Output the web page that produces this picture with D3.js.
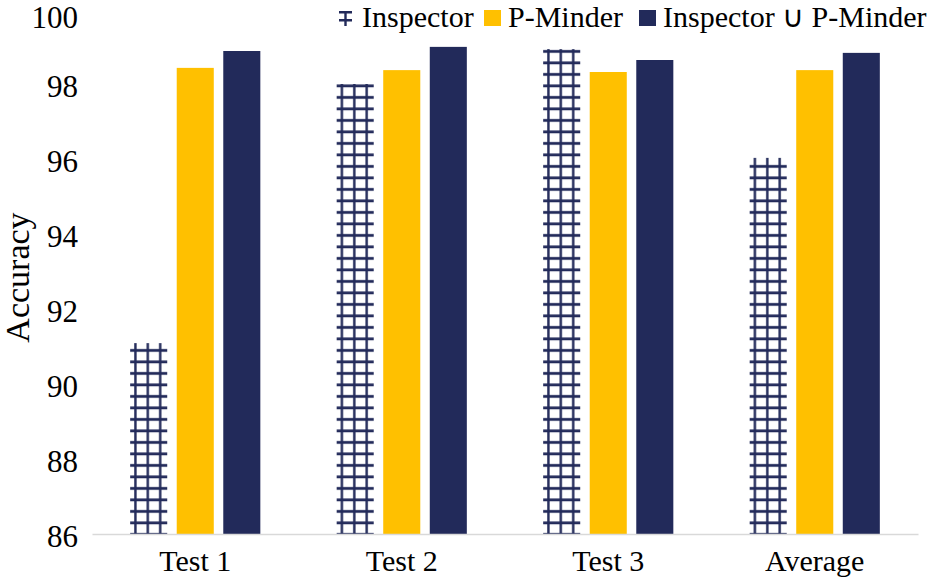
<!DOCTYPE html>
<html>
<head>
<meta charset="utf-8">
<script src="https://cdn.jsdelivr.net/npm/d3@7"></script>
<style>
  body { margin: 0; background: #fff; }
  svg text { font-family: "Liberation Serif", "Times New Roman", serif; fill: #000; }
</style>
</head>
<body>
<script>
// data
const categories = ["Test 1", "Test 2", "Test 3", "Average"];
const seriesNames = ["Inspector", "P-Minder", "Inspector \u222A P-Minder"];
const inspector = [91.09, 98.0, 98.93, 96.03];
const pMinder = [98.43, 98.37, 98.32, 98.37];
const union = [98.88, 98.99, 98.64, 98.83];
const yTicks = [86, 88, 90, 92, 94, 96, 98, 100];

const width = 945, height = 586;
const margin = { top: 9, right: 27, bottom: 52, left: 92 };
const navy = "#222a5a", gold = "#ffc000";
const serif = "Liberation Serif, Times New Roman, serif";

const svg = d3.select("body").append("svg")
    .attr("width", width)
    .attr("height", height)
    .attr("font-family", serif);

// grid hatch for the Inspector series
const defs = svg.append("defs");
const pat = defs.append("pattern")
    .attr("id", "grid")
    .attr("patternUnits", "userSpaceOnUse")
    .attr("width", 12.4)
    .attr("height", 11.5);
pat.append("rect").attr("width", 12.4).attr("height", 11.5).attr("fill", "#fff");
pat.append("rect").attr("x", 0).attr("y", 4).attr("width", 12.4).attr("height", 2.8).attr("fill", navy);
pat.append("rect").attr("x", 5).attr("y", 0).attr("width", 2.4).attr("height", 11.5).attr("fill", navy);

const x0 = d3.scaleBand()
    .domain(categories)
    .range([margin.left, width - margin.right]);

const x1 = d3.scaleBand()
    .domain(seriesNames)
    .range([0, x0.bandwidth()])
    .paddingInner(0.204)
    .paddingOuter(0.82);

const y = d3.scaleLinear()
    .domain([86, 100])
    .range([height - margin.bottom, margin.top]);

const fills = ["url(#grid)", gold, navy];
const rows = categories.map((c, i) => ({
    cat: c,
    vals: [inspector[i], pMinder[i], union[i]]
}));

const groups = svg.append("g").selectAll("g")
    .data(rows)
    .join("g")
    .attr("transform", d => `translate(${x0(d.cat)},0)`);

groups.selectAll("rect")
    .data(d => d.vals.map((v, j) => ({ name: seriesNames[j], v, j })))
    .join("rect")
    .attr("x", d => x1(d.name))
    .attr("y", d => y(d.v))
    .attr("width", x1.bandwidth())
    .attr("height", d => y(86) - y(d.v))
    .attr("fill", d => fills[d.j]);

// x axis
const xAxis = svg.append("g")
    .attr("transform", `translate(0,${y(86)})`)
    .call(d3.axisBottom(x0).tickSize(0).tickPadding(16))
    .attr("font-family", serif);
xAxis.select(".domain").attr("stroke", "#d9d9d9").attr("stroke-width", 1.5);
xAxis.selectAll("text")
    .style("font-size", "30px");

// y axis (labels only)
const yAxis = svg.append("g")
    .attr("transform", `translate(${margin.left},0)`)
    .call(d3.axisLeft(y).tickValues(yTicks).tickSize(0).tickPadding(14))
    .attr("font-family", serif);
yAxis.select(".domain").remove();
yAxis.selectAll("text")
    .attr("dy", "0.4em")
    .style("font-size", "31px");
// keep the top label inside the frame
yAxis.selectAll(".tick").filter(d => d === 100).select("text").attr("dy", "0.6em");

svg.append("text")
    .attr("transform", `translate(29,${(y(86) + y(100)) / 2 + 6}) rotate(-90)`)
    .attr("text-anchor", "middle")
    .style("font-size", "34px")
    .text("Accuracy");

// legend
const legendItems = [
    { name: seriesNames[0], fill: null, x: 338 },
    { name: seriesNames[1], fill: gold, x: 484 },
    { name: seriesNames[2], fill: navy, x: 639 }
];
const lg = svg.append("g").selectAll("g")
    .data(legendItems)
    .join("g")
    .attr("transform", d => `translate(${d.x},0)`);
lg.filter(d => d.fill)
    .append("rect")
    .attr("y", 10)
    .attr("width", 17)
    .attr("height", 16)
    .attr("fill", d => d.fill);
// small grid glyph for the hatched series
const icon = lg.filter(d => !d.fill);
icon.append("rect").attr("x", 1).attr("y", 11).attr("width", 13).attr("height", 2.5).attr("fill", navy);
icon.append("rect").attr("x", 1).attr("y", 19).attr("width", 13).attr("height", 2.5).attr("fill", navy);
icon.append("rect").attr("x", 6.3).attr("y", 11).attr("width", 2.4).attr("height", 15).attr("fill", navy);
lg.append("text")
    .attr("x", 24)
    .attr("y", 27)
    .style("font-size", "30px")
    .text(d => d.name);
</script>
</body>
</html>
